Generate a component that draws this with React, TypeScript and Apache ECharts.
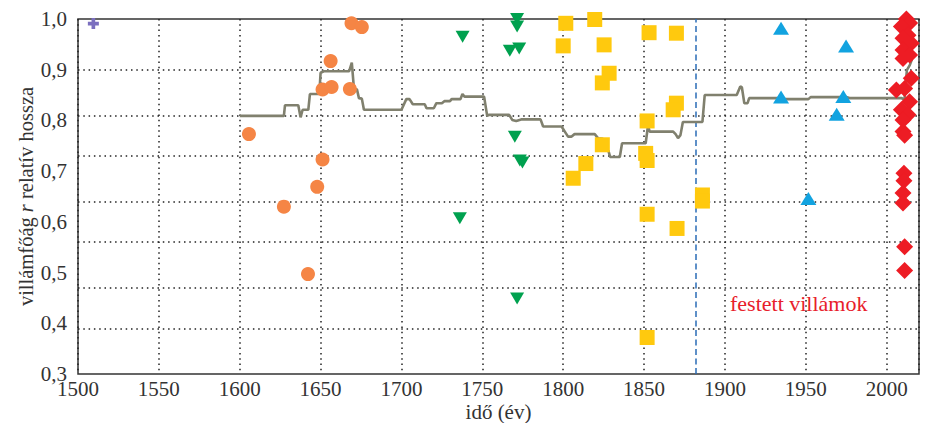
import React, { useEffect, useRef } from "react";
import * as echarts from "echarts";

const FONT = '"Liberation Serif", "DejaVu Serif", serif';
const TXT = "#333333";

// x: year, y: relative length r
const purplePoints: [number, number][] = [[1509.5, 0.991]];

const orangePoints: [number, number][] = [
  [1605.7, 0.773], [1627.3, 0.63], [1642.2, 0.497], [1647.9, 0.669],
  [1651.2, 0.723], [1651.2, 0.861], [1656.8, 0.866], [1656.2, 0.917],
  [1668.1, 0.862], [1669.1, 0.9915], [1675.5, 0.984],
];

const greenPoints: [number, number][] = [
  [1737.8, 0.965], [1771.5, 1.0], [1771.5, 0.985], [1767, 0.9375],
  [1772.8, 0.942], [1770.1, 0.768], [1773.2, 0.721], [1774.8, 0.717],
  [1736.1, 0.607], [1771.5, 0.449],
];

const yellowPoints: [number, number][] = [
  [1801.6, 0.9915], [1819.5, 0.999], [1800, 0.947], [1825.3, 0.949],
  [1828.4, 0.893], [1824.2, 0.874], [1853.1, 0.973], [1870, 0.972],
  [1870, 0.834], [1868, 0.821], [1851.9, 0.799], [1824.2, 0.752],
  [1814, 0.715], [1806.2, 0.686], [1851, 0.735], [1851.9, 0.721],
  [1851.9, 0.615], [1870.4, 0.587], [1886.1, 0.653], [1886.1, 0.641],
  [1851.9, 0.372],
];

const bluePoints: [number, number][] = [
  [1934.7, 0.982], [1974.9, 0.947], [1934.7, 0.846], [1973.2, 0.847],
  [1969.1, 0.812], [1951.6, 0.646],
];

const redPoints: [number, number][] = [
  [2012.2, 1.0], [2014.2, 0.992], [2009.1, 0.985], [2013.2, 0.968],
  [2010.1, 0.962], [2015.2, 0.952], [2010.1, 0.939], [2014.2, 0.929],
  [2010.1, 0.922], [2015.2, 0.883], [2006, 0.86], [2011.1, 0.863],
  [2014.2, 0.837], [2009.1, 0.821], [2013.2, 0.811], [2010.1, 0.801],
  [2010.1, 0.778], [2011.1, 0.771], [2010.7, 0.696], [2010.7, 0.681],
  [2010.1, 0.657], [2010.1, 0.637], [2011.1, 0.551], [2011.1, 0.504],
];

const averageLine: [number, number][] = [
  [1600, 0.809], [1627.3, 0.809], [1628, 0.83], [1636.2, 0.83], [1637.6, 0.806],
  [1638.9, 0.821], [1642.4, 0.821], [1643.4, 0.852], [1649.2, 0.852], [1650, 0.894],
  [1652, 0.897], [1667.7, 0.897], [1669.3, 0.914], [1670.6, 0.863], [1672.5, 0.861],
  [1673.7, 0.844], [1675.5, 0.843], [1676.8, 0.821], [1700, 0.821], [1703, 0.842],
  [1705, 0.842], [1707, 0.832], [1714.4, 0.832], [1715.5, 0.824], [1720, 0.824],
  [1721.6, 0.834], [1725, 0.834], [1726.5, 0.838], [1730, 0.838], [1731, 0.842],
  [1736.5, 0.842], [1737.7, 0.852], [1739, 0.847], [1751.1, 0.847], [1753, 0.809],
  [1754, 0.811], [1766.6, 0.811], [1768.5, 0.801], [1771, 0.799], [1774, 0.802],
  [1786, 0.802], [1787.6, 0.788], [1799, 0.788], [1801, 0.778], [1803, 0.768],
  [1805, 0.768], [1807, 0.773], [1819.5, 0.773], [1821.5, 0.765], [1824.5, 0.764],
  [1826.3, 0.742], [1828, 0.74], [1829, 0.728], [1835, 0.728], [1836.4, 0.755],
  [1851, 0.755], [1852.5, 0.791], [1853.4, 0.778], [1868, 0.778], [1869.5, 0.773],
  [1871, 0.765], [1872.5, 0.771], [1874, 0.797], [1886.1, 0.797], [1887.5, 0.85],
  [1907.3, 0.85], [1909.5, 0.867], [1910.5, 0.865], [1912, 0.834], [1914, 0.834],
  [1915, 0.844], [1934, 0.844], [1937, 0.842], [1951.6, 0.842], [1953, 0.846],
  [1971, 0.846], [1974, 0.847], [1977, 0.844], [2009.3, 0.844], [2011, 0.84],
  [2012.5, 0.899], [2014.3, 0.909], [2015.7, 0.921],
];

const paintedYear = 1882;
const paintedLabel = "festett villámok";
const xName = "idő (év)";
const yName = "villámfőág {i|r} relatív hossza";

// horizontal grid lines split 0.3 .. 0.9 into 7 equal parts
const hGridValues: number[] = [1, 2, 3, 4, 5, 6, 7].map((k) => 0.3 + (k * 0.6) / 7);

export default function App() {
  const ref = useRef<HTMLDivElement>(null);
  useEffect(() => {
    if (!ref.current) return;
    const chart = echarts.init(ref.current, undefined, { renderer: "svg" });
    const dotted = { type: [1.5, 3.8] as any, color: "#222", width: 1.5 };
    const scatterBase = { type: "scatter" as const, z: 3, silent: true };
    chart.setOption({
      animation: false,
      grid: {
        left: 78,
        right: 8,
        top: 19,
        bottom: 49,
        containLabel: false,
        outerBoundsMode: "none",
        show: true,
        borderColor: "#333",
        borderWidth: 1.5,
        backgroundColor: "transparent",
      },
      xAxis: {
        type: "value",
        min: 1500,
        max: 2020,
        interval: 50,
        axisLine: { show: false },
        axisTick: { show: false },
        axisLabel: {
          formatter: (v: number) => (v % 50 === 0 ? String(v) : ""),
          fontFamily: FONT,
          fontSize: 21,
          lineHeight: 18,
          color: TXT,
          margin: 6,
        },
        splitLine: { show: true, lineStyle: dotted },
        name: xName,
        nameLocation: "middle",
        nameGap: 29,
        nameMoveOverlap: false,
        nameTextStyle: { fontFamily: FONT, fontSize: 21, lineHeight: 18, color: TXT },
      },
      yAxis: {
        type: "value",
        min: 0.3,
        max: 1.0,
        interval: 0.1,
        axisLine: { show: false },
        axisTick: { show: false },
        axisLabel: {
          formatter: (v: number) => v.toFixed(1).replace(".", ","),
          fontFamily: FONT,
          fontSize: 21,
          color: TXT,
          margin: 11,
        },
        splitLine: { show: false },
        name: yName,
        nameLocation: "middle",
        nameGap: 42,
        nameMoveOverlap: false,
        nameTextStyle: {
          fontFamily: FONT,
          fontSize: 20.5,
          color: TXT,
          rich: {
            i: { fontFamily: FONT, fontSize: 20.5, color: TXT, fontStyle: "italic" },
          },
        },
      },
      graphic: [
        {
          type: "text",
          x: 730,
          y: 303,
          silent: true,
          style: {
            text: paintedLabel,
            fill: "#e8202a",
            font: `22px ${FONT}`,
            verticalAlign: "middle",
          },
        },
      ],
      series: [
        {
          type: "line",
          data: [],
          z: 1,
          silent: true,
          markLine: {
            z: 1,
            silent: true,
            symbol: ["none", "none"],
            label: { show: false },
            lineStyle: dotted,
            data: [
              ...hGridValues.map((v) => ({ yAxis: v })),
              {
                xAxis: paintedYear,
                lineStyle: { type: [6, 3.5], color: "#2a6cb6", width: 1.5 },
              },
            ],
          },
        },
        {
          type: "line",
          data: averageLine,
          showSymbol: false,
          z: 2,
          silent: true,
          lineStyle: { color: "#80806e", width: 2.6 },
        },
        {
          ...scatterBase,
          data: purplePoints,
          symbol: "path://M4,0H8V4H12V8H8V12H4V8H0V4H4Z",
          symbolSize: 11,
          itemStyle: { color: "#7b6fbf", opacity: 1 },
        },
        {
          ...scatterBase,
          data: orangePoints,
          symbol: "circle",
          symbolSize: 14,
          itemStyle: { color: "#f58545", opacity: 1 },
        },
        {
          ...scatterBase,
          data: greenPoints,
          symbol: "triangle",
          symbolRotate: 180,
          symbolSize: [14, 12],
          itemStyle: { color: "#00a14f", opacity: 1 },
        },
        {
          ...scatterBase,
          data: yellowPoints,
          symbol: "rect",
          symbolSize: 15,
          itemStyle: { color: "#ffc90e", opacity: 1 },
        },
        {
          ...scatterBase,
          data: bluePoints,
          symbol: "triangle",
          symbolSize: [16, 13],
          itemStyle: { color: "#12a3e0", opacity: 1 },
        },
        {
          ...scatterBase,
          data: redPoints,
          symbol: "diamond",
          symbolSize: 17,
          itemStyle: { color: "#ed1c24", opacity: 1 },
        },
      ],
    });
    return () => chart.dispose();
  }, []);
  return (
    <div
      ref={ref}
      style={{ position: "fixed", left: 0, top: 0, width: 927, height: 423, background: "#fff" }}
    />
  );
}
